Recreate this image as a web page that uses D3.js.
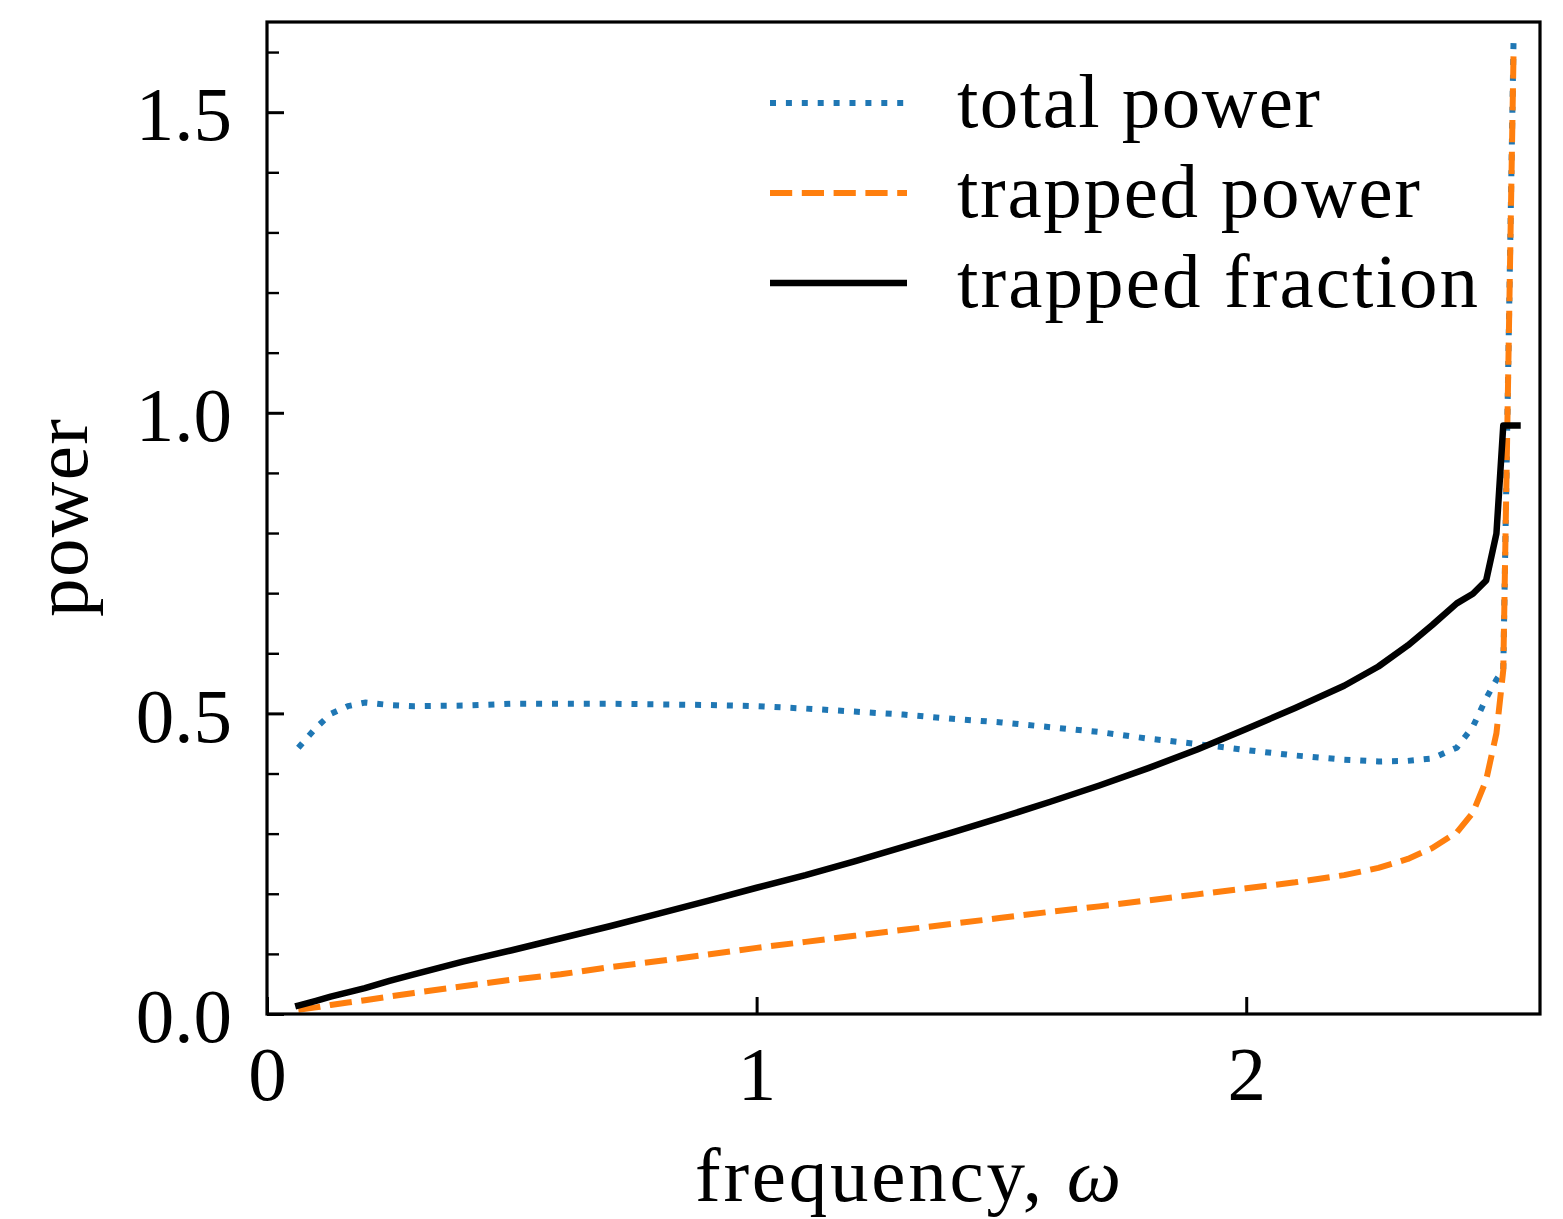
<!DOCTYPE html>
<html><head><meta charset="utf-8">
<script src="https://cdn.jsdelivr.net/npm/d3@7"></script>
<style>body{margin:0;background:#fff}</style>
</head><body><svg id="chart" width="1563" height="1219"></svg>
<script>
// ---- data ----
const omega = [0.064, 0.1, 0.13, 0.165, 0.2, 0.25, 0.3, 0.4, 0.5, 0.6, 0.7, 0.8, 0.9, 1.0, 1.1, 1.2, 1.3, 1.4, 1.5, 1.6, 1.7, 1.8, 1.9, 2.0, 2.1, 2.2, 2.27, 2.33, 2.38, 2.43, 2.463, 2.49, 2.511, 2.525, 2.546, 2.554];
const totalPower = [0.443, 0.476, 0.499, 0.512, 0.518, 0.514, 0.512, 0.513, 0.516, 0.516, 0.516, 0.515, 0.514, 0.512, 0.508, 0.503, 0.498, 0.491, 0.485, 0.477, 0.469, 0.458, 0.449, 0.439, 0.430, 0.423, 0.420, 0.421, 0.425, 0.443, 0.478, 0.525, 0.556, 0.572, 1.62, null];
const trappedPower = [0.007, 0.011, 0.015, 0.019, 0.023, 0.029, 0.035, 0.046, 0.057, 0.066, 0.078, 0.088, 0.099, 0.110, 0.120, 0.130, 0.140, 0.150, 0.160, 0.170, 0.179, 0.189, 0.199, 0.209, 0.219, 0.231, 0.243, 0.258, 0.276, 0.302, 0.335, 0.389, 0.467, 0.572, 1.60, null];
const trappedFraction = [0.014, 0.022, 0.029, 0.036, 0.043, 0.055, 0.066, 0.087, 0.106, 0.126, 0.146, 0.167, 0.188, 0.210, 0.231, 0.254, 0.278, 0.302, 0.327, 0.353, 0.380, 0.409, 0.440, 0.474, 0.509, 0.546, 0.578, 0.613, 0.647, 0.683, 0.699, 0.721, 0.799, 0.979, 0.979, 0.979];
const seriesNames = ["total power", "trapped power", "trapped fraction"];
const xTicks = [0, 1, 2];
const yTicks = [0.0, 0.5, 1.0, 1.5];
const yMinorTicks = [0.1, 0.2, 0.3, 0.4, 0.6, 0.7, 0.8, 0.9, 1.1, 1.2, 1.3, 1.4, 1.6];
const xLabel = "frequency, ";
const xLabelSym = "ω";
const yLabel = "power";

// ---- layout ----
const L = 267, R = 1540, T = 22, B = 1014;
const FONT = "'Liberation Serif', 'Times New Roman', serif";
const FS = 77;

const svg = d3.select("#chart");
const x = d3.scaleLinear().domain([0, 2.6]).range([L, R]);
const y = d3.scaleLinear().domain([0, 1.65]).range([B, T]);

svg.append("defs").append("clipPath").attr("id", "clip")
  .append("rect").attr("x", L).attr("y", T).attr("width", R - L).attr("height", B - T);

const styles = [
  {color: "#1f77b4", width: 6, dash: "6 9.9", cap: "butt"},
  {color: "#ff7f0e", width: 6, dash: "22.2 9.6", cap: "butt"},
  {color: "#000000", width: 6.5, dash: null, cap: "square"}
];
const series = [totalPower, trappedPower, trappedFraction];

const line = d3.line().defined(d => d[1] != null).x(d => x(d[0])).y(d => y(d[1]));
const plot = svg.append("g").attr("clip-path", "url(#clip)");
series.forEach((vals, i) => {
  const st = styles[i];
  plot.append("path")
    .datum(omega.map((w, j) => [w, vals[j]]))
    .attr("d", line)
    .attr("fill", "none")
    .attr("stroke", st.color)
    .attr("stroke-width", st.width)
    .attr("stroke-dasharray", st.dash)
    .attr("stroke-linecap", st.cap)
    .attr("stroke-linejoin", "round");
});

// ---- axes ----
const yAxis = d3.axisLeft(y).tickValues(yTicks).tickFormat(d3.format(".1f"))
  .tickSizeInner(-17).tickSizeOuter(0).tickPadding(35);
const gy = svg.append("g").attr("transform", `translate(${L},0)`).call(yAxis);
const yMinor = d3.axisLeft(y).tickValues(yMinorTicks).tickFormat("")
  .tickSizeInner(-12).tickSizeOuter(0);
const gym = svg.append("g").attr("transform", `translate(${L},0)`).call(yMinor);

const xAxis = d3.axisBottom(x).tickValues(xTicks).tickFormat(d3.format("d"))
  .tickSizeInner(-17).tickSizeOuter(0).tickPadding(31);
const gx = svg.append("g").attr("transform", `translate(0,${B})`).call(xAxis);

[gy, gym, gx].forEach(g => {
  g.select(".domain").remove();
  g.selectAll("text").attr("font-family", FONT).attr("font-size", FS).attr("fill", "#000");
});
gy.selectAll(".tick line").attr("stroke", "#000").attr("stroke-width", 3);
gx.selectAll(".tick line").attr("stroke", "#000").attr("stroke-width", 3);
gym.selectAll(".tick line").attr("stroke", "#000").attr("stroke-width", 2.4);
gy.selectAll("text").attr("dy", "0.36em");

// frame
svg.append("rect").attr("x", L).attr("y", T).attr("width", R - L).attr("height", B - T)
  .attr("fill", "none").attr("stroke", "#000").attr("stroke-width", 3.2);

// axis labels
const xl = svg.append("text").attr("x", 695).attr("y", 1201)
  .attr("font-family", FONT).attr("font-size", FS)
  .attr("textLength", 426).attr("lengthAdjust", "spacing");
xl.append("tspan").text(xLabel);
xl.append("tspan").attr("font-style", "italic").text(xLabelSym);

svg.append("text")
  .attr("transform", `translate(87,${(T + B) / 2}) rotate(-90)`)
  .attr("text-anchor", "middle").attr("font-family", FONT).attr("font-size", FS)
  .attr("textLength", 198).attr("lengthAdjust", "spacing")
  .text(yLabel);

// legend
const legY = [103, 193, 283];
const legLen = [363, 463, 521];
const leg = svg.append("g");
seriesNames.forEach((name, i) => {
  const st = styles[i];
  leg.append("line").attr("x1", 770).attr("x2", 907).attr("y1", legY[i]).attr("y2", legY[i])
    .attr("stroke", st.color).attr("stroke-width", st.width)
    .attr("stroke-dasharray", st.dash).attr("stroke-linecap", "butt");
  leg.append("text").attr("x", 957).attr("y", legY[i] + 24)
    .attr("font-family", FONT).attr("font-size", FS)
    .attr("textLength", legLen[i]).attr("lengthAdjust", "spacing")
    .text(name);
});
</script>
</body></html>
